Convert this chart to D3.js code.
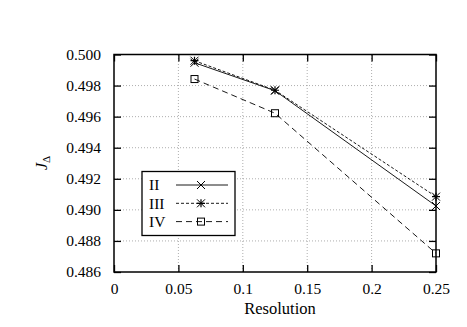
<!DOCTYPE html>
<html>
<head>
<meta charset="utf-8">
<script src="https://cdn.jsdelivr.net/npm/d3@7"></script>
<style>
  body { margin: 0; background: #fff; }
</style>
</head>
<body>
<svg id="chart" width="467" height="327" font-family="Liberation Serif"></svg>
<script>
const resolution = [0.0625, 0.125, 0.25];
const seriesNames = ['II', 'III', 'IV'];
const valuesII = [0.49947, 0.49767, 0.49025];
const valuesIII = [0.49960, 0.49770, 0.49085];
const valuesIV = [0.49842, 0.49622, 0.48720];
const xTicks = [0, 0.05, 0.1, 0.15, 0.2, 0.25];
const xTickLabels = ['0', '0.05', '0.1', '0.15', '0.2', '0.25'];
const yTicks = [0.486, 0.488, 0.490, 0.492, 0.494, 0.496, 0.498, 0.500];

const series = [
    {name: seriesNames[0], values: valuesII, dash: null, marker: 'cross'},
    {name: seriesNames[1], values: valuesIII, dash: '3,2', marker: 'star'},
    {name: seriesNames[2], values: valuesIV, dash: '6,4', marker: 'square'}
];

const FONT = 'Liberation Serif';
const margin = {left: 114, top: 54.5, right: 467 - 436, bottom: 327 - 272};
const W = 467, H = 327;

const svg = d3.select('#chart');
const x = d3.scaleLinear().domain([0, 0.25]).range([margin.left, W - margin.right]);
const y = d3.scaleLinear().domain([0.486, 0.500]).range([H - margin.bottom, margin.top]);

// grid
const grid = svg.append('g').attr('stroke', '#999').attr('stroke-width', 0.8).attr('stroke-dasharray', '1,2');
xTicks.slice(1, -1).forEach(t => {
    grid.append('line').attr('x1', x(t)).attr('x2', x(t)).attr('y1', y.range()[0]).attr('y2', y.range()[1]);
});
yTicks.slice(1, -1).forEach(t => {
    grid.append('line').attr('x1', x.range()[0]).attr('x2', x.range()[1]).attr('y1', y(t)).attr('y2', y(t));
});

// axes with inward ticks, mirrored
const tickLen = 7;
const axes = svg.append('g').attr('class', 'axes');
axes.append('g').attr('transform', `translate(0,${y.range()[0]})`)
    .call(d3.axisBottom(x).tickValues(xTicks).tickSizeInner(-tickLen).tickSizeOuter(0).tickPadding(11)
        .tickFormat((d, i) => xTickLabels[i]));
axes.append('g').attr('transform', `translate(0,${y.range()[1]})`)
    .call(d3.axisTop(x).tickValues(xTicks).tickSizeInner(-tickLen).tickSizeOuter(0).tickFormat(''));
axes.append('g').attr('transform', `translate(${x.range()[0]},0)`)
    .call(d3.axisLeft(y).tickValues(yTicks).tickSizeInner(-tickLen).tickSizeOuter(0).tickPadding(13)
        .tickFormat(d3.format('.3f')));
axes.append('g').attr('transform', `translate(${x.range()[1]},0)`)
    .call(d3.axisRight(y).tickValues(yTicks).tickSizeInner(-tickLen).tickSizeOuter(0).tickFormat(''));
axes.selectAll('.domain').remove();
axes.selectAll('g').attr('font-family', FONT).attr('font-size', 15.5);
axes.selectAll('.tick line').attr('stroke', '#000').attr('stroke-width', 1.3);
axes.selectAll('text').attr('font-family', FONT).attr('font-size', 15.5).attr('fill', '#000');

// frame
svg.append('rect')
    .attr('x', x.range()[0]).attr('y', y.range()[1])
    .attr('width', x.range()[1] - x.range()[0]).attr('height', y.range()[0] - y.range()[1])
    .attr('fill', 'none').attr('stroke', '#000').attr('stroke-width', 1.5);

function drawMarker(g, type, cx, cy) {
    const s = 4;
    if (type === 'cross' || type === 'star') {
        g.append('path').attr('d', `M${cx - s},${cy - s}L${cx + s},${cy + s}M${cx - s},${cy + s}L${cx + s},${cy - s}`)
            .attr('stroke', '#000').attr('stroke-width', 1).attr('fill', 'none');
    }
    if (type === 'star') {
        g.append('path').attr('d', `M${cx - s},${cy}L${cx + s},${cy}M${cx},${cy - s}L${cx},${cy + s}`)
            .attr('stroke', '#000').attr('stroke-width', 1.2).attr('fill', 'none');
    }
    if (type === 'square') {
        g.append('rect').attr('x', cx - 3.5).attr('y', cy - 3.5).attr('width', 7).attr('height', 7)
            .attr('stroke', '#000').attr('stroke-width', 1).attr('fill', 'none');
    }
}

const line = d3.line().x((d, i) => x(resolution[i])).y(d => y(d));
series.forEach(s => {
    const g = svg.append('g');
    g.append('path').datum(s.values).attr('d', line)
        .attr('fill', 'none').attr('stroke', '#000').attr('stroke-width', 0.9)
        .attr('stroke-dasharray', s.dash);
    s.values.forEach((v, i) => drawMarker(g, s.marker, x(resolution[i]), y(v)));
});

// legend
const legend = svg.append('g');
legend.append('rect').attr('x', 142).attr('y', 171.5).attr('width', 93).attr('height', 64)
    .attr('fill', '#fff').attr('stroke', '#000').attr('stroke-width', 1.3);
series.forEach((s, i) => {
    const ly = 185 + i * 18.3;
    legend.append('text').attr('x', 149).attr('y', ly).attr('dy', '0.35em')
        .attr('font-family', FONT).attr('font-size', 15.5).text(s.name);
    legend.append('line').attr('x1', 176).attr('x2', 228).attr('y1', ly).attr('y2', ly)
        .attr('stroke', '#000').attr('stroke-width', 0.9).attr('stroke-dasharray', s.dash);
    drawMarker(legend, s.marker, 201, ly);
});

// axis titles
svg.append('text').attr('x', 280).attr('y', 308).attr('dy', '0.35em').attr('text-anchor', 'middle')
    .attr('font-family', FONT).attr('font-size', 16.5).text('Resolution');
const yl = svg.append('text').attr('transform', `translate(47,163) rotate(-90)`).attr('text-anchor', 'middle')
    .attr('font-family', FONT).attr('font-size', 16).attr('font-style', 'italic');
yl.append('tspan').text('J');
yl.append('tspan').attr('dy', 3).attr('font-size', 11).attr('font-style', 'normal').text('Δ');
</script>
</body>
</html>
